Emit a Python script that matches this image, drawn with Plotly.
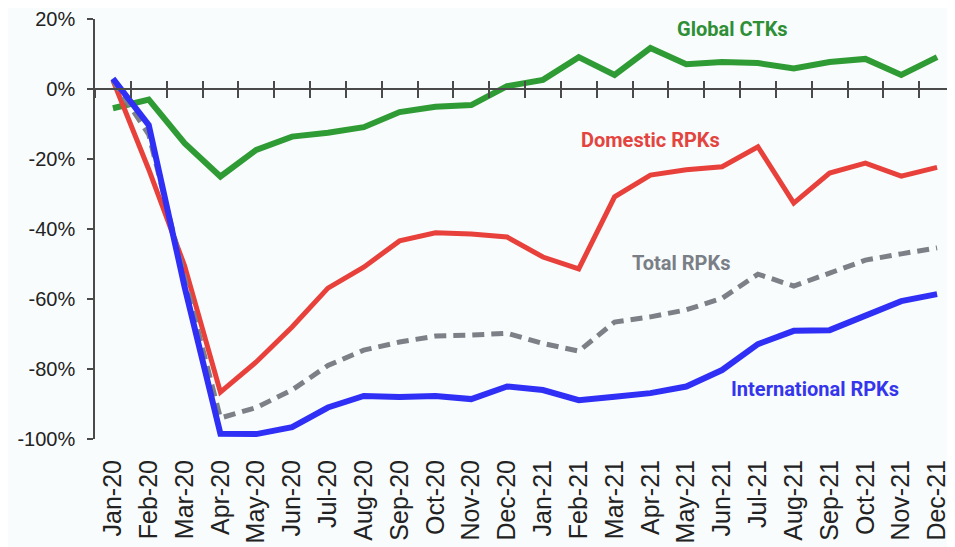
import plotly.graph_objects as go

months = ["Jan-20", "Feb-20", "Mar-20", "Apr-20", "May-20", "Jun-20", "Jul-20", "Aug-20",
          "Sep-20", "Oct-20", "Nov-20", "Dec-20", "Jan-21", "Feb-21", "Mar-21", "Apr-21",
          "May-21", "Jun-21", "Jul-21", "Aug-21", "Sep-21", "Oct-21", "Nov-21", "Dec-21"]

global_ctks = [-5.5, -3.0, -15.5, -25.0, -17.4, -13.6, -12.5, -10.9, -6.6, -5.1, -4.6, 0.8,
               2.6, 9.1, 4.0, 11.7, 7.1, 7.7, 7.4, 5.9, 7.7, 8.6, 4.0, 9.1]
domestic_rpks = [2.5, -23.0, -50.5, -86.6, -78.0, -68.0, -56.9, -50.9, -43.4, -41.1, -41.4, -42.3,
                 -48.0, -51.4, -30.8, -24.6, -23.1, -22.2, -16.5, -32.6, -24.0, -21.2, -24.9, -22.4]
total_rpks = [2.5, -13.0, -54.0, -94.0, -91.0, -86.0, -79.0, -74.6, -72.3, -70.6, -70.3, -69.8,
              -72.7, -74.9, -66.6, -65.1, -63.1, -59.8, -52.9, -56.3, -52.6, -48.9, -47.1, -45.4]
international_rpks = [3.0, -10.3, -56.5, -98.5, -98.6, -96.6, -91.0, -87.7, -88.0, -87.7, -88.6, -85.0,
                      -86.0, -88.9, -87.9, -86.9, -85.0, -80.3, -72.9, -69.1, -68.9, -64.6, -60.6, -58.6]

y_ticks = [20, 0, -20, -40, -60, -80, -100]
y_tick_labels = ["20%", "0%", "-20%", "-40%", "-60%", "-80%", "-100%"]

GREEN = "#2f9b34"
RED = "#e8413b"
GRAY = "#7d8087"
BLUE = "#2f2ff5"
AXIS = "#4a4a4a"
BG = "#f8fcfc"

fig = go.Figure()

fig.add_trace(go.Scatter(x=months, y=global_ctks, mode="lines", name="Global CTKs",
                         line=dict(color=GREEN, width=6)))
fig.add_trace(go.Scatter(x=months, y=domestic_rpks, mode="lines", name="Domestic RPKs",
                         line=dict(color=RED, width=5)))
fig.add_trace(go.Scatter(x=months, y=total_rpks, mode="lines", name="Total RPKs",
                         line=dict(color=GRAY, width=5, dash="12px,7px")))
fig.add_trace(go.Scatter(x=months, y=international_rpks, mode="lines", name="International RPKs",
                         line=dict(color=BLUE, width=6)))

# helper invisible traces for the overlay axes
fig.add_trace(go.Scatter(x=months, y=[None] * len(months), xaxis="x2", mode="lines",
                         showlegend=False, hoverinfo="skip"))
fig.add_trace(go.Scatter(x=months, y=[None] * len(months), xaxis="x3", mode="lines",
                         showlegend=False, hoverinfo="skip"))

zero_pos = (0 - (-100)) / 120.0
x_range = [-0.5, len(months) - 0.5]

fig.update_layout(
    width=947, height=539,
    margin=dict(l=87, r=0, t=11, b=108, autoexpand=False),
    paper_bgcolor=BG, plot_bgcolor=BG,
    showlegend=False,
    font=dict(family="Liberation Sans, Arial, sans-serif", color="#222222"),
    xaxis=dict(type="category", categoryorder="array", categoryarray=months, range=x_range,
               anchor="free", position=zero_pos, showline=True, linecolor=AXIS, linewidth=1.5,
               ticks="outside", ticklen=8, tickcolor=AXIS, tickwidth=1.5, tickson="boundaries",
               showticklabels=False, showgrid=False, zeroline=False),
    xaxis2=dict(type="category", categoryorder="array", categoryarray=months, range=x_range,
                overlaying="x", anchor="free", position=zero_pos, showline=False,
                ticks="inside", ticklen=8, tickcolor=AXIS, tickwidth=1.5, tickson="boundaries",
                showticklabels=False, showgrid=False, zeroline=False),
    xaxis3=dict(type="category", categoryorder="array", categoryarray=months, range=x_range,
                overlaying="x", anchor="y", side="bottom", showline=False, ticks="",
                showticklabels=True, tickangle=-90, tickfont=dict(size=25, color="#222222"),
                ticklabelstandoff=15, showgrid=False, zeroline=False),
    yaxis=dict(range=[-100, 20], tickvals=y_ticks, ticktext=y_tick_labels, showline=True,
               linecolor=AXIS, linewidth=1.5, ticks="outside", ticklen=6, tickcolor=AXIS,
               tickwidth=1.5, showgrid=False, zeroline=False,
               tickfont=dict(size=20, color="#222222"), ticklabelstandoff=8),
)

label_font = "Roboto, Arial, sans-serif"
fig.add_annotation(x=17.3, y=17.1, xref="x", yref="y", text="<b>Global CTKs</b>", showarrow=False,
                   font=dict(family=label_font, size=20, color="#2e8f36"))
fig.add_annotation(x=15.0, y=-14.6, xref="x", yref="y", text="<b>Domestic RPKs</b>", showarrow=False,
                   font=dict(family=label_font, size=20, color="#e4443f"))
fig.add_annotation(x=15.85, y=-49.7, xref="x", yref="y", text="<b>Total RPKs</b>", showarrow=False,
                   font=dict(family=label_font, size=20, color="#7a7e86"))
fig.add_annotation(x=19.6, y=-85.7, xref="x", yref="y", text="<b>International RPKs</b>", showarrow=False,
                   font=dict(family=label_font, size=20, color="#3535ee"))

fig.write_html("out.html")
